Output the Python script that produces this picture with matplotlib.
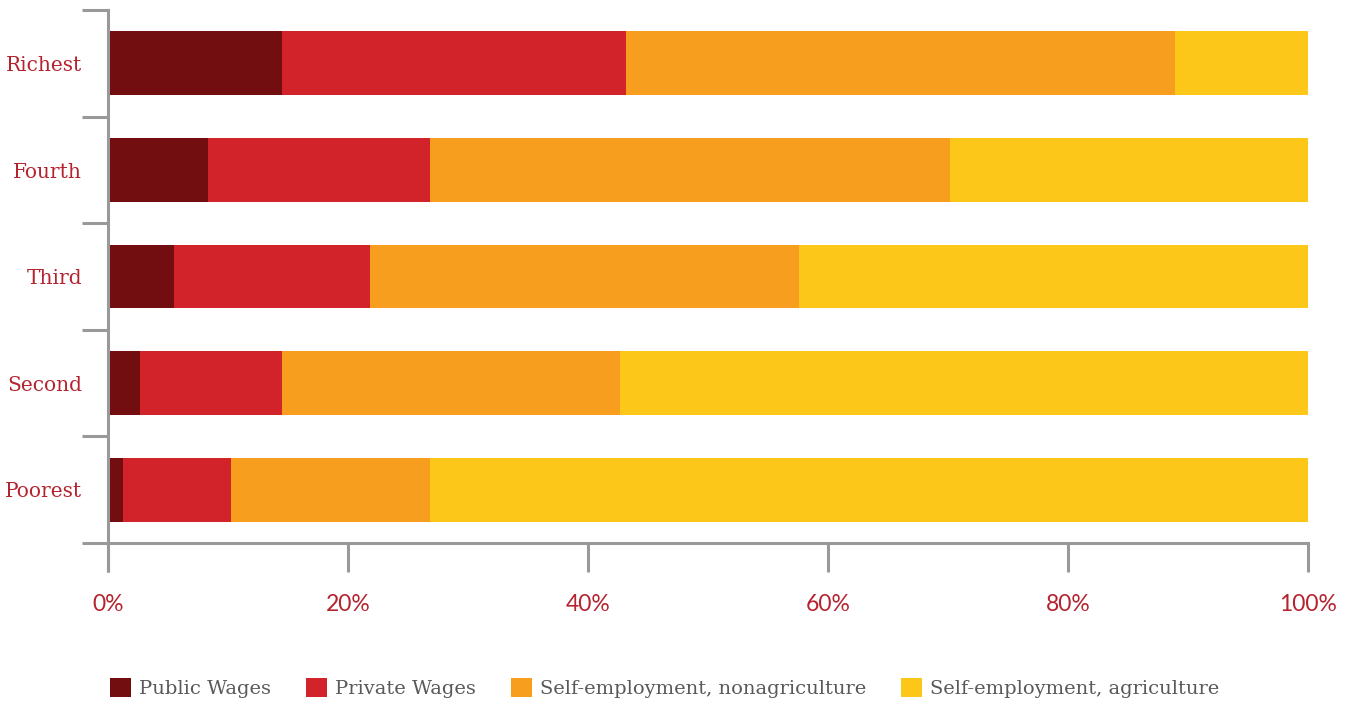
import matplotlib
matplotlib.use("Agg")
import matplotlib.pyplot as plt
import numpy as np

categories = ["Poorest", "Second", "Third", "Fourth", "Richest"]
public_wages = [1.25, 2.7, 5.5, 8.3, 14.5]
private_wages = [9.0, 11.8, 16.3, 18.5, 28.7]
self_nonag = [16.55, 28.2, 35.8, 43.4, 45.7]
self_ag = [73.2, 57.3, 42.4, 29.8, 11.1]
series_names = ["Public Wages", "Private Wages", "Self-employment, nonagriculture",
                "Self-employment, agriculture"]
xtick_values = [0, 20, 40, 60, 80, 100]
xtick_labels = ["0%", "20%", "40%", "60%", "80%", "100%"]

colors = ["#720D10", "#D2232A", "#F79E1E", "#FDC71A"]
label_red = "#B5232F"
axis_grey = "#999999"

W, H = 1358, 701
fig = plt.figure(figsize=(W / 100, H / 100), dpi=100)
ax = fig.add_axes([108 / W, 1 - 543 / H, 1200 / W, 533 / H])

y = np.arange(len(categories))
left = np.zeros(len(categories))
handles = []
for vals, c, name in zip([public_wages, private_wages, self_nonag, self_ag], colors, series_names):
    b = ax.barh(y, vals, left=left, height=0.6, color=c, label=name, linewidth=0)
    left += np.array(vals)
    handles.append(b)

ax.set_xlim(0, 100)
ax.set_ylim(-0.5, len(categories) - 0.5)

for s in ["top", "right"]:
    ax.spines[s].set_visible(False)
for s in ["left", "bottom"]:
    ax.spines[s].set_color(axis_grey)
    ax.spines[s].set_linewidth(2.2)

# y: boundary ticks, labels at centers
ax.set_yticks(np.arange(-0.5, len(categories), 1.0))
ax.set_yticklabels([])
ax.tick_params(axis="y", length=19, width=2.2, color=axis_grey)
for yi, cat in zip(y, categories):
    ax.text(-26 / 12, yi - 0.02, cat, ha="right", va="center", fontsize=14.5,
            family="DejaVu Serif", color=label_red)

ax.set_xticks(xtick_values)
ax.set_xticklabels(xtick_labels)
ax.tick_params(axis="x", length=21, width=2.2, color=axis_grey, pad=16,
               labelsize=16.5, labelcolor=label_red)
for t in ax.get_xticklabels():
    t.set_family("Lato")

# extend y-axis line below x-axis
ax.plot([0, 0], [-0.5, -0.5 - 29 / 106.6], color=axis_grey, lw=2.2,
        clip_on=False, solid_capstyle="butt")

leg = fig.legend(handles=handles, labels=series_names, loc="center left",
                 bbox_to_anchor=(110 / W, 1 - 688 / H), ncol=4, frameon=False,
                 borderpad=0, borderaxespad=0,
                 handlelength=1.08, handleheight=1.08, handletextpad=0.41,
                 columnspacing=1.8, prop={"family": "DejaVu Serif", "size": 14})
for t in leg.get_texts():
    t.set_color("#595959")

fig.savefig("out.png", dpi=100, facecolor="white")
